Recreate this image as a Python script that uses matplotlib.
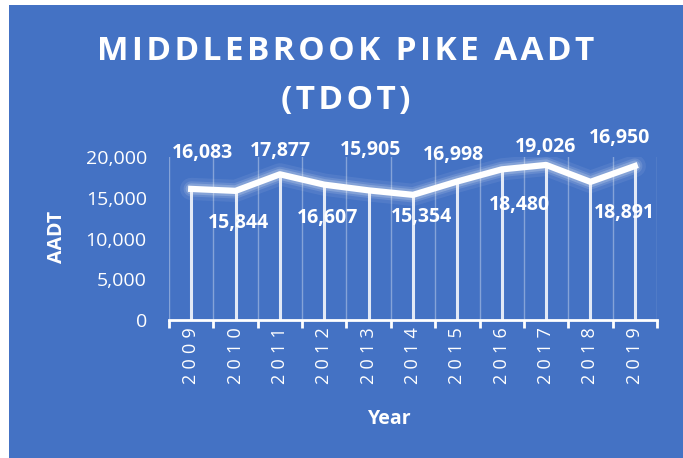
import matplotlib
matplotlib.use("Agg")
import matplotlib.pyplot as plt
from matplotlib.patches import Rectangle

# data
years = ["2009", "2010", "2011", "2012", "2013", "2014", "2015", "2016", "2017", "2018", "2019"]
aadt = [16083, 15844, 17877, 16607, 15905, 15354, 16998, 18480, 19026, 16950, 18891]
yticks = [0, 5000, 10000, 15000, 20000]

# label offsets in pixels (dx, dy)
offsets = [(11, 36), (3, -32), (1, 23), (3, -33), (2, 40), (8, -22),
           (-4, 26), (18, -36), (-1, 18), (29, 44), (-10, -47)]

blue = "#4472C4"
plt.rcParams['font.family'] = ['Open Sans', 'DejaVu Sans']
hair = "\u200a"

fig = plt.figure(figsize=(6.83, 4.58), dpi=100, facecolor="white")
fig.patches.append(Rectangle((9 / 683, 0), 1, 1 - 5 / 458, transform=fig.transFigure,
                             facecolor=blue, edgecolor="none", zorder=-5))

ax = fig.add_axes([169 / 683, 1 - 320 / 458, (657 - 169) / 683, (320 - 157) / 458])
ax.set_facecolor("none")
x = list(range(len(years)))

# glow behind the line
for lw, a in [(16, 0.07), (11, 0.12), (8, 0.2)]:
    ax.plot(x, aadt, color="white", lw=lw, alpha=a, solid_capstyle="round", zorder=3)
ax.plot(x, aadt, color="white", lw=4.5, solid_joinstyle="round", zorder=4)

# drop lines
ax.vlines(x, 0, aadt, color="white", lw=2.2, alpha=0.85, zorder=2)

# light vertical gridlines between categories
for b in range(len(years) + 1):
    ax.axvline(b - 0.5, color="white", lw=1, alpha=0.35, zorder=1)

for i, v in enumerate(aadt):
    ax.annotate(f"{v:,}", (i, v), xytext=offsets[i], textcoords="offset pixels",
                ha="center", va="center", color="white", fontsize=14,
                fontweight="bold", zorder=5)

ax.set_xlim(-0.5, len(years) - 0.5)
ax.set_ylim(0, 20000)
ax.set_yticks(yticks)
ax.set_yticklabels([f"{t:,}" for t in yticks], color="white", fontsize=14)
ax.set_xticks(x)
ax.set_xticklabels([(hair * 3).join(y) for y in years], rotation=90, color="white", fontsize=13)
ax.tick_params(axis="x", length=0, pad=5)
ax.tick_params(axis="y", length=0, pad=16)
# tick marks at category boundaries
ax.set_xticks([b - 0.5 for b in range(len(years) + 1)], minor=True)
ax.tick_params(axis="x", which="minor", length=6, width=2, color="white", direction="out")

for s in ["top", "right", "left"]:
    ax.spines[s].set_visible(False)
ax.spines["bottom"].set_color("white")
ax.spines["bottom"].set_linewidth(2)

fig.text(346 / 683, 1 - 52 / 458, hair.join("MIDDLEBROOK PIKE AADT"), ha="center", va="center",
         color="white", fontsize=24, fontweight="bold")
fig.text(346 / 683, 1 - 100 / 458, hair.join("(TDOT)"), ha="center", va="center",
         color="white", fontsize=24, fontweight="bold")
fig.text(57 / 683, 1 - 237 / 458, "AADT", rotation=90, ha="center", va="center",
         color="white", fontsize=14, fontweight="bold")
fig.text(390 / 683, 1 - 419 / 458, "Year", ha="center", va="center",
         color="white", fontsize=14, fontweight="bold")

fig.savefig("out.png", dpi=100, facecolor="white")
